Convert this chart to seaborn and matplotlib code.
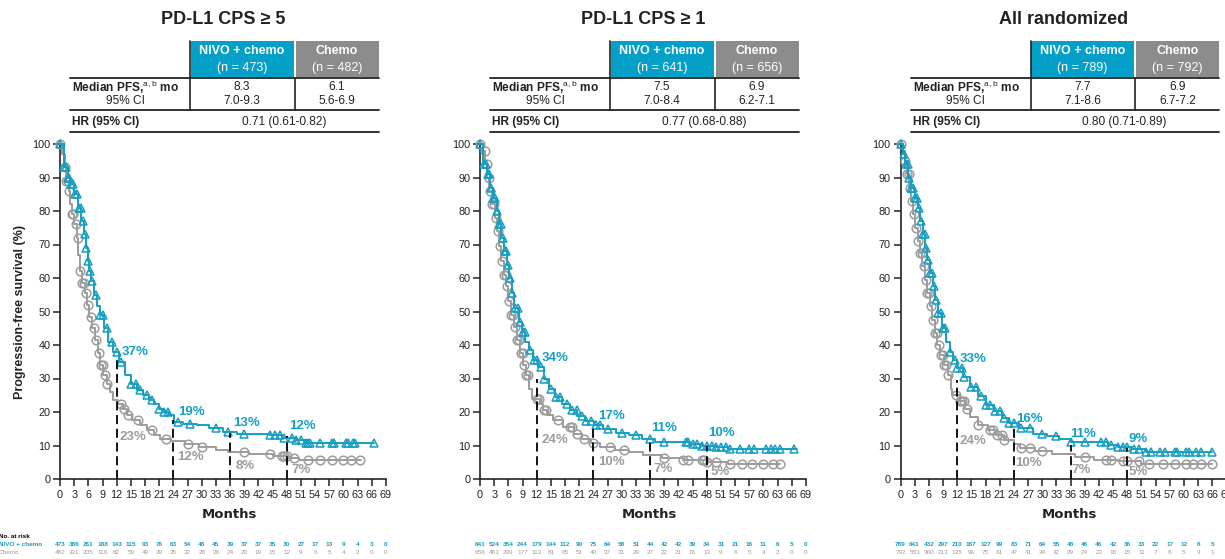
import numpy as np
import pandas as pd
import matplotlib
matplotlib.use("Agg")
import matplotlib.pyplot as plt
import seaborn as sns
from matplotlib.lines import Line2D
from matplotlib.patches import Rectangle
from matplotlib.transforms import blended_transform_factory

# ---------------- data ----------------
titles = ["PD-L1 CPS \u2265 5", "PD-L1 CPS \u2265 1", "All randomized"]
n_nivo = [473, 641, 789]
n_chemo = [482, 656, 792]
median_nivo = ["8.3", "7.5", "7.7"]
ci_nivo = ["7.0-9.3", "7.0-8.4", "7.1-8.6"]
median_chemo = ["6.1", "6.9", "6.9"]
ci_chemo = ["5.6-6.9", "6.2-7.1", "6.7-7.2"]
hr_text = ["0.71 (0.61-0.82)", "0.77 (0.68-0.88)", "0.80 (0.71-0.89)"]

cps5_nivo_t = [0, 0.8, 1.6, 2.1, 3.0, 3.8, 4.5, 5.0, 5.5, 5.9, 6.2, 6.6, 7.2, 7.8, 8.5, 9.3, 10.2, 11.2, 12.4, 13.8,
               15.0, 16.3, 17.5, 18.8, 19.9, 21.0, 22.0, 23.0, 24.2, 26.0, 29.0, 31.5, 34.5, 37.5, 44.5, 47.0, 50.0, 52.0, 66.5]
cps5_nivo_s = [100, 93, 90, 88, 85, 81, 77, 73, 69, 65, 62, 59, 55, 51.5, 49, 45, 41, 38, 35, 31,
               28.5, 26.5, 25, 23.5, 22.5, 21, 20, 19, 17, 16.5, 16, 15.3, 14, 13.5, 13, 12.2, 11.7, 10.6, 10.6]
cps5_chemo_t = [0, 0.5, 1.0, 1.3, 1.8, 2.2, 2.5, 3.0, 3.5, 3.9, 4.2, 4.6, 5.2, 5.7, 6.1, 6.7, 7.4, 8.0, 8.5, 9.2,
                9.9, 10.6, 11.3, 12.3, 13.3, 14.2, 15.2, 17.0, 18.4, 19.8, 21.2, 23.5, 26.5, 29.5, 33.0, 35.5, 40.0,
                45.0, 48.5, 50.5, 63.7]
cps5_chemo_s = [100, 97, 93, 89, 86, 82, 79, 76, 72, 67, 62, 58.5, 55.5, 52, 48.5, 45, 41.5, 37.5, 34, 31,
                28.5, 26, 23.5, 22.5, 21, 19, 17.5, 16, 14.5, 13.2, 12, 11.2, 10.3, 9.6, 8.6, 8.0, 7.5,
                6.8, 6.4, 5.6, 5.6]

cps1_nivo_t = [0, 0.6, 1.4, 2.1, 2.8, 3.5, 4.0, 4.5, 5.1, 5.7, 6.2, 6.7, 7.3, 8.2, 8.9, 9.6, 10.3, 11.3, 12.2, 13.5,
               14.6, 15.8, 17.3, 19.0, 20.6, 22.3, 24.2, 26.0, 28.7, 31.5, 34.2, 37.0, 44.5, 47.0, 50.0, 52.5, 67.0]
cps1_nivo_s = [100, 94, 91, 87, 84, 80, 76, 72, 68, 64, 60, 55.5, 51, 47, 44, 41, 38.5, 35.5, 33.5, 30,
               27, 24.6, 22.5, 20.5, 18.7, 17.2, 16, 14.8, 13.8, 13, 11.8, 11, 10.5, 10, 9.5, 8.9, 8.9]
cps1_chemo_t = [0, 0.6, 1.1, 1.5, 2.0, 2.6, 3.1, 3.6, 4.0, 4.5, 5.0, 5.5, 6.0, 6.6, 7.2, 7.8, 8.4, 9.1, 9.8, 10.4,
                11.0, 12.6, 13.4, 14.2, 15.5, 17.5, 19.8, 21.5, 23.5, 25.5, 28.5, 31.5, 34.5, 38.5, 43.0, 48.0, 52.5, 63.5]
cps1_chemo_s = [100, 98, 94, 90, 86, 82, 78, 74, 69.5, 65, 61, 57.5, 53, 49, 45.5, 41.5, 37.5, 34, 31, 27,
                24, 22.5, 20.7, 19, 17.5, 15.5, 13.5, 12, 10.7, 9.7, 8.8, 8.0, 7.3, 6.4, 5.7, 5.1, 4.5, 4.5]

all_nivo_t = [0, 0.5, 0.9, 1.6, 2.3, 3.0, 3.7, 4.2, 4.7, 5.2, 5.7, 6.2, 6.8, 7.3, 7.9, 8.7, 9.6, 10.4, 11.2, 11.9,
              13.3, 14.8, 16.4, 18.0, 19.8, 21.5, 23.0, 25.0, 28.0, 31.0, 33.5, 36.0, 44.0, 46.0, 49.0, 52.0, 66.0]
all_nivo_s = [100, 97, 94, 90, 87, 84, 81, 77, 73, 69, 65.5, 61.5, 57.5, 53.5, 49.5, 45, 41, 38, 35.5, 33,
              30.5, 27.5, 24.7, 22.2, 20.2, 18.2, 16.7, 15.2, 13.5, 12.7, 11.9, 10.9, 10.2, 9.5, 8.9, 8.0, 8.0]
all_chemo_t = [0, 0.5, 1.0, 1.3, 1.8, 2.2, 2.6, 3.1, 3.6, 4.1, 4.6, 5.2, 5.7, 6.2, 6.7, 7.3, 7.8, 8.4, 9.2, 10.0,
               10.6, 11.0, 12.5, 13.6, 14.8, 16.5, 18.5, 20.2, 22.0, 24.0, 25.2, 28.5, 32.0, 37.0, 41.0, 46.0, 51.0, 66.0]
all_chemo_s = [100, 98, 95, 91, 87, 83, 79, 75, 71, 67.5, 63.5, 59.5, 55.5, 51.5, 47.5, 43.5, 40, 37, 34, 31,
               27, 25, 23.2, 21, 18.5, 16.2, 14.5, 13, 11.5, 10.5, 9.2, 8.5, 7.6, 6.6, 5.8, 5.3, 4.6, 4.6]

# censoring times
cps5_nivo_cens = [0, 0.8, 1.2, 1.6, 2.0, 2.4, 2.8, 3.2, 3.6, 4.0, 4.4, 4.8, 5.2, 5.6, 6.0, 6.4, 6.8, 7.6, 8.5, 9.0,
                  10.0, 11.0, 12.0, 13.0, 15.0, 16.0, 17.0, 18.5, 19.5, 21.0, 22.0, 22.8, 25.0, 27.5, 33.0, 35.5,
                  39.0, 44.5, 45.5, 46.5, 47.5, 49.0, 50.0, 51.0, 52.0, 52.5, 53.0, 55.0, 57.5, 58.0, 60.5, 61.0,
                  62.0, 62.5, 66.5]
cps5_chemo_cens = [0, 1.0, 1.3, 1.7, 2.0, 2.5, 2.8, 3.3, 3.8, 4.3, 4.6, 5.0, 5.5, 6.0, 6.5, 7.3, 7.7, 8.2, 8.6, 9.0,
                   9.5, 10.0, 13.0, 13.5, 14.3, 16.5, 19.5, 22.5, 27.0, 30.0, 39.0, 44.5, 47.0, 47.5, 48.0, 49.5,
                   52.5, 55.0, 57.5, 60.0, 61.5, 63.5]
cps1_nivo_cens = [0, 0.8, 1.2, 1.6, 2.0, 2.4, 2.8, 3.2, 3.6, 4.0, 4.4, 4.8, 5.2, 5.6, 6.0, 6.4, 6.8, 7.5, 8.0, 8.5,
                  9.0, 9.5, 10.5, 11.5, 12.0, 13.0, 13.5, 15.0, 16.0, 17.0, 18.5, 19.5, 20.5, 21.5, 22.5, 23.5,
                  24.5, 25.5, 27.0, 30.0, 33.0, 36.0, 39.0, 43.5, 44.0, 45.0, 46.0, 47.0, 48.0, 49.0, 50.0, 51.0,
                  52.0, 53.0, 55.0, 57.0, 58.0, 60.5, 61.5, 62.5, 63.5, 66.5]
cps1_chemo_cens = [0, 1.0, 1.4, 1.8, 2.2, 2.6, 3.0, 3.4, 3.8, 4.2, 4.6, 5.0, 5.4, 5.8, 6.2, 6.6, 7.0, 7.4, 7.8, 8.2,
                   8.6, 9.0, 9.4, 9.8, 10.2, 12.0, 12.5, 13.5, 14.0, 16.5, 19.0, 19.5, 20.5, 22.0, 24.0, 27.5,
                   30.5, 39.0, 43.0, 44.0, 47.0, 47.5, 48.0, 50.0, 53.0, 55.5, 57.5, 60.0, 62.0, 63.5]
all_nivo_cens = [0, 0.7, 1.1, 1.5, 1.9, 2.3, 2.7, 3.1, 3.5, 3.9, 4.3, 4.7, 5.1, 5.5, 5.9, 6.3, 6.7, 7.1, 7.5, 8.0,
                 8.5, 9.0, 9.5, 10.5, 11.5, 12.0, 13.0, 13.5, 15.0, 16.0, 17.0, 18.0, 19.0, 20.0, 21.0, 22.0,
                 23.0, 24.0, 25.5, 27.5, 30.0, 33.0, 36.0, 39.0, 42.5, 43.5, 44.5, 46.0, 47.0, 48.0, 49.5, 50.5,
                 52.0, 53.0, 55.0, 56.0, 58.0, 58.5, 60.5, 61.0, 62.5, 63.5, 66.0]
all_chemo_cens = [0, 1.0, 1.3, 1.7, 2.1, 2.5, 2.9, 3.3, 3.7, 4.1, 4.5, 4.9, 5.3, 5.7, 6.1, 6.5, 6.9, 7.3, 7.7, 8.1,
                  8.5, 8.9, 9.3, 9.7, 10.1, 11.8, 12.5, 13.0, 13.5, 14.0, 16.5, 19.0, 19.5, 20.5, 21.5, 22.0,
                  25.5, 27.5, 30.0, 39.0, 43.5, 44.5, 47.0, 48.0, 50.5, 52.5, 55.5, 58.0, 60.5, 62.0, 63.5, 66.0]

landmarks = [12, 24, 36, 48]
landmark_tops = [[35.6, 17.7, 13.7, 12.7], [30.0, 16.2, 11.0, 10.0], [29.6, 15.2, 10.2, 9.2]]
pct_nivo = [["37%", "19%", "13%", "12%"], ["34%", "17%", "11%", "10%"], ["33%", "16%", "11%", "9%"]]
pct_chemo = [["23%", "12%", "8%", "7%"], ["24%", "10%", "7%", "5%"], ["24%", "10%", "7%", "5%"]]

risk_months = list(range(0, 70, 3))
cps5_risk_nivo = [473, 386, 261, 188, 143, 115, 93, 76, 63, 54, 48, 45, 39, 37, 37, 35, 30, 27, 17, 13, 9, 4, 3, 0]
cps5_risk_chemo = [482, 331, 205, 116, 82, 59, 49, 39, 35, 32, 28, 26, 24, 20, 19, 15, 12, 9, 6, 5, 4, 2, 0, 0]
cps1_risk_nivo = [641, 524, 354, 244, 179, 144, 112, 90, 75, 64, 58, 51, 44, 42, 42, 39, 34, 31, 21, 16, 11, 6, 5, 0]
cps1_risk_chemo = [656, 461, 299, 177, 113, 81, 65, 51, 40, 37, 31, 29, 27, 22, 21, 16, 13, 9, 6, 5, 4, 2, 0, 0]
all_risk_nivo = [789, 641, 432, 297, 210, 167, 127, 99, 83, 71, 64, 55, 48, 46, 46, 42, 36, 33, 22, 17, 12, 6, 5, 0]
all_risk_chemo = [792, 553, 360, 213, 135, 96, 75, 61, 47, 41, 34, 32, 29, 24, 23, 18, 15, 11, 7, 6, 5, 3, 1, 0]

# ---------------- layout / style (not data) ----------------
panels = [
    dict(nt=cps5_nivo_t, ns=cps5_nivo_s, ct=cps5_chemo_t, cs=cps5_chemo_s, ncen=cps5_nivo_cens,
         ccen=cps5_chemo_cens, rn=cps5_risk_nivo, rc=cps5_risk_chemo),
    dict(nt=cps1_nivo_t, ns=cps1_nivo_s, ct=cps1_chemo_t, cs=cps1_chemo_s, ncen=cps1_nivo_cens,
         ccen=cps1_chemo_cens, rn=cps1_risk_nivo, rc=cps1_risk_chemo),
    dict(nt=all_nivo_t, ns=all_nivo_s, ct=all_chemo_t, cs=all_chemo_s, ncen=all_nivo_cens,
         ccen=all_chemo_cens, rn=all_risk_nivo, rc=all_risk_chemo),
]
nivo_label_pos = [[(13.0, 38.0), (25.0, 20.0), (36.6, 16.7), (48.6, 15.7)],
                  [(13.1, 36.0), (25.1, 18.7), (36.3, 15.2), (48.3, 13.7)],
                  [(12.5, 35.8), (24.4, 17.9), (36.0, 13.5), (48.2, 12.0)]]
chemo_label_pos = [[(12.5, 12.5), (24.8, 6.5), (37.2, 4.0), (49.0, 2.8)],
                   [(13.1, 11.7), (24.9, 5.0), (36.7, 3.0), (48.7, 2.0)],
                   [(12.5, 11.2), (24.3, 4.8), (36.2, 2.6), (48.2, 2.0)]]
panel_left_px = [60, 480, 900.5]

sns.set_style("ticks")
plt.rcParams['font.family'] = ['Liberation Sans', 'DejaVu Sans']
plt.rcParams['mathtext.fontset'] = 'custom'
plt.rcParams['mathtext.rm'] = 'Liberation Sans'

TEAL = '#159fc3'
GREY = '#9c9c9c'
HEAD_TEAL = '#04a0c8'
HEAD_GREY = '#8c8c8c'
INK = '#222222'

W, H = 1225, 559
fig = plt.figure(figsize=(W / 100, H / 100), dpi=100)


def fx(px):
    return px / W


def fy(py):
    return 1 - py / H


def fline(x0, x1, y0, y1, lw=1.3, color=INK):
    fig.add_artist(Line2D([fx(x0), fx(x1)], [fy(y0), fy(y1)], color=color, lw=lw,
                          transform=fig.transFigure))


def step_value(t, s, c):
    idx = np.searchsorted(np.asarray(t), np.asarray(c), side='right') - 1
    return np.asarray(s)[idx]


for i, p in enumerate(panels):
    L = panel_left_px[i]
    dx = L - 60
    ax = fig.add_axes([fx(L), fy(479), 326 / W, (479 - 144) / H])

    df_n = pd.DataFrame({'t': p['nt'], 's': p['ns']})
    df_c = pd.DataFrame({'t': p['ct'], 's': p['cs']})
    sns.lineplot(data=df_c, x='t', y='s', drawstyle='steps-post', color=GREY, lw=1.4,
                 estimator=None, ax=ax, clip_on=False, zorder=3)
    sns.lineplot(data=df_n, x='t', y='s', drawstyle='steps-post', color=TEAL, lw=1.4,
                 estimator=None, ax=ax, clip_on=False, zorder=4)
    ax.plot(p['ccen'], step_value(p['ct'], p['cs'], p['ccen']), ls='none', marker='o', ms=6.2,
            mfc='none', mec=GREY, mew=1.1, clip_on=False, zorder=3)
    ax.plot(p['ncen'], step_value(p['nt'], p['ns'], p['ncen']), ls='none', marker='^', ms=6.2,
            mfc='none', mec=TEAL, mew=1.1, clip_on=False, zorder=4)

    for lm, top in zip(landmarks, landmark_tops[i]):
        ax.plot([lm, lm], [0, top], color='black', lw=1.3, dashes=(5, 2.6), zorder=5)
    for txt, (x, y) in zip(pct_nivo[i], nivo_label_pos[i]):
        ax.text(x, y, txt, color=TEAL, fontsize=9.5, fontweight='bold', ha='left', va='center', zorder=6)
    for txt, (x, y) in zip(pct_chemo[i], chemo_label_pos[i]):
        ax.text(x, y, txt, color=GREY, fontsize=9.5, fontweight='bold', ha='left', va='center', zorder=6)

    ax.set_xlim(0, 69)
    ax.set_ylim(0, 100)
    ax.set_xticks(risk_months)
    ax.set_yticks(range(0, 101, 10))
    sns.despine(ax=ax)
    for sp in ['left', 'bottom']:
        ax.spines[sp].set_linewidth(1.2)
        ax.spines[sp].set_color(INK)
    ax.tick_params(axis='both', length=5, width=1.1, color=INK, labelsize=7.8, labelcolor=INK)
    ax.tick_params(axis='x', pad=3)
    ax.tick_params(axis='y', pad=2)
    ax.set_xlabel('Months', fontsize=9.5, fontweight='bold', family=['DejaVu Sans'], color=INK)
    ax.xaxis.set_label_coords((229 - 60) / 326, (479 - 514) / 335)
    ax.xaxis.label.set_va('center')
    if i == 0:
        ax.set_ylabel('Progression-free survival (%)', fontsize=9, fontweight='bold', color=INK)
        ax.yaxis.set_label_coords((20 - 60) / 326, 0.5)
        ax.yaxis.label.set_va('center')
    else:
        ax.set_ylabel('')

    # number at risk
    trans = blended_transform_factory(ax.transData, fig.transFigure)
    for m, v in zip(risk_months, p['rn']):
        ax.text(m, fy(545), str(v), transform=trans, ha='center', va='center', fontsize=4.6,
                color=TEAL, fontweight='bold', clip_on=False)
    for m, v in zip(risk_months, p['rc']):
        ax.text(m, fy(553), str(v), transform=trans, ha='center', va='center', fontsize=4.6,
                color=GREY, clip_on=False)
    if i == 0:
        fig.text(fx(-1), fy(537), 'No. at risk', fontsize=4.6, fontweight='bold', color='black',
                 ha='left', va='center')
        fig.text(fx(-1), fy(545), 'NIVO + chemo', fontsize=4.6, fontweight='bold', color=TEAL,
                 ha='left', va='center')
        fig.text(fx(-1), fy(553), 'Chemo', fontsize=4.6, color=GREY, ha='left', va='center')

    # title
    fig.text(fx(223.5 + dx), fy(20), titles[i], fontsize=13, fontweight='bold', color=INK,
             ha='center', va='center')

    # summary table
    fig.add_artist(Rectangle((fx(190.5 + dx), fy(77)), (293.5 - 190.5) / W, (77 - 41) / H,
                             facecolor=HEAD_TEAL, edgecolor='none', transform=fig.transFigure))
    fig.add_artist(Rectangle((fx(295.5 + dx), fy(77)), (378.5 - 295.5) / W, (77 - 41) / H,
                             facecolor=HEAD_GREY, edgecolor='none', transform=fig.transFigure))
    fig.text(fx(242 + dx), fy(51), 'NIVO + chemo', fontsize=9, fontweight='bold', color='white',
             ha='center', va='center')
    fig.text(fx(242 + dx), fy(67.5), f'(n = {n_nivo[i]})', fontsize=9, color='white',
             ha='center', va='center')
    fig.text(fx(337 + dx), fy(51), 'Chemo', fontsize=9, fontweight='bold', color='white',
             ha='center', va='center')
    fig.text(fx(337 + dx), fy(67.5), f'(n = {n_chemo[i]})', fontsize=9, color='white',
             ha='center', va='center')

    fline(70 + dx, 378.5 + dx, 77.5, 77.5)
    fline(70 + dx, 378.5 + dx, 110, 110)
    fline(70 + dx, 378.5 + dx, 132.5, 132.5)
    fline(190 + dx, 190 + dx, 41, 110, lw=1.2)
    fline(294.5 + dx, 294.5 + dx, 77.5, 110, lw=1.2)

    fig.text(fx(72 + dx), fy(87), r'Median PFS,$^{\mathrm{a,b}}$ mo', fontsize=8.6, fontweight='bold',
             color=INK, ha='left', va='center')
    fig.text(fx(125 + dx), fy(101), '95% CI', fontsize=8.6, color=INK, ha='center', va='center')
    fig.text(fx(242 + dx), fy(87), median_nivo[i], fontsize=8.6, color=INK, ha='center', va='center')
    fig.text(fx(242 + dx), fy(101), ci_nivo[i], fontsize=8.6, color=INK, ha='center', va='center')
    fig.text(fx(337 + dx), fy(87), median_chemo[i], fontsize=8.6, color=INK, ha='center', va='center')
    fig.text(fx(337 + dx), fy(101), ci_chemo[i], fontsize=8.6, color=INK, ha='center', va='center')
    fig.text(fx(72 + dx), fy(121.5), 'HR (95% CI)', fontsize=8.6, fontweight='bold', color=INK,
             ha='left', va='center')
    fig.text(fx(284 + dx), fy(121.5), hr_text[i], fontsize=8.6, color=INK, ha='center', va='center')

fig.savefig('out.png', dpi=100)
